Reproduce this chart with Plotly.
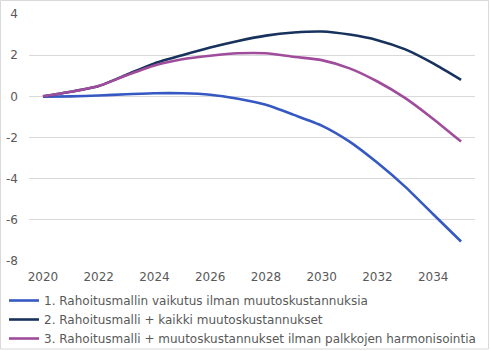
import plotly.graph_objects as go

years = list(range(2020, 2036))
s1_name = "1. Rahoitusmallin vaikutus ilman muutoskustannuksia"
s2_name = "2. Rahoitusmalli + kaikki muutoskustannukset"
s3_name = "3. Rahoitusmalli + muutoskustannukset ilman palkkojen harmonisointia"
s1 = [-0.02, 0.0, 0.04, 0.1, 0.15, 0.15, 0.08, -0.12, -0.41, -0.9, -1.42, -2.2, -3.23, -4.4, -5.73, -7.05]
s2 = [0.0, 0.22, 0.5, 1.05, 1.6, 2.0, 2.37, 2.69, 2.95, 3.1, 3.15, 3.0, 2.73, 2.28, 1.6, 0.8]
s3 = [0.0, 0.22, 0.5, 1.02, 1.5, 1.8, 1.97, 2.09, 2.09, 1.92, 1.76, 1.36, 0.72, -0.09, -1.1, -2.2]
yticks = [-8, -6, -4, -2, 0, 2, 4]
xticks = [2020, 2022, 2024, 2026, 2028, 2030, 2032, 2034]

colors = ["#3558C2", "#17325C", "#A04C9C"]
font = "DejaVu Sans"
gray = "#595959"

fig = go.Figure()
for name, vals, c in [(s1_name, s1, colors[0]), (s2_name, s2, colors[1]), (s3_name, s3, colors[2])]:
    fig.add_trace(go.Scatter(x=years, y=vals, name=name, mode="lines",
                             line=dict(color=c, width=2.6, shape="spline", smoothing=0.6)))

L, R, T, B = 29, 16, 14, 90
W, H = 491, 351
pw, ph = W - L - R, H - T - B

fig.update_layout(
    width=W, height=H,
    margin=dict(l=L, r=R, t=T, b=B, pad=0, autoexpand=False),
    paper_bgcolor="white", plot_bgcolor="white",
    font=dict(family=font, size=12, color=gray),
    showlegend=True,
    legend=dict(orientation="v", xref="container", yref="container",
                x=4 / W, y=1 - 286 / H,
                xanchor="left", yanchor="top", font=dict(size=12, color=gray),
                itemwidth=30, tracegroupgap=0, bgcolor="rgba(0,0,0,0)"),
    xaxis=dict(range=[2019.5, 2035.5], tickmode="array", tickvals=xticks,
               ticktext=[str(v) for v in xticks], showgrid=False, zeroline=False,
               showline=False, ticks="", ticklabelstandoff=7,
               tickfont=dict(size=12, color=gray)),
    yaxis=dict(range=[-8, 4], tickmode="array", tickvals=yticks,
               ticktext=[str(v) for v in yticks], showgrid=True, gridcolor="#D9D9D9",
               gridwidth=1, zeroline=False, showline=False, ticks="",
               ticklabelstandoff=10, tickfont=dict(size=12, color=gray)),
)

fig.add_shape(type="rect", xref="paper", yref="paper",
              x0=(0.5 - L) / pw, x1=(488.5 - L) / pw,
              y0=(T + ph - 349) / ph, y1=(T + ph - 0.5) / ph,
              line=dict(color="#D9D9D9", width=1), fillcolor="rgba(0,0,0,0)", layer="below")

fig.write_html("out.html")
